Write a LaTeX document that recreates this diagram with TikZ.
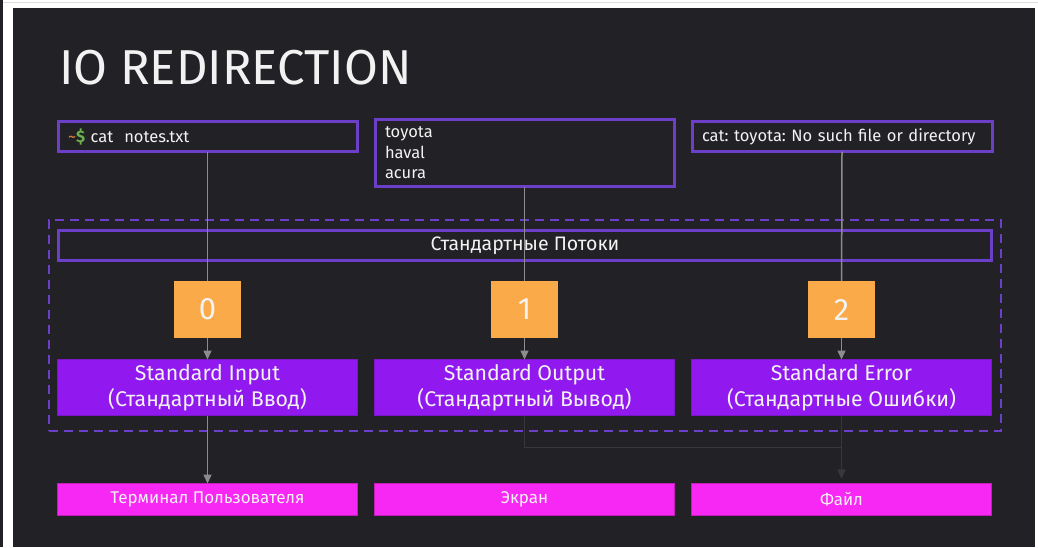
\documentclass[tikz,border=0pt]{standalone}
\usepackage{fontspec}
\setmainfont{Fira Sans}
\usetikzlibrary{arrows.meta}
\definecolor{panel}{HTML}{222226}
\definecolor{purp}{HTML}{6C3FC8}
\definecolor{orng}{HTML}{FBAA4A}
\definecolor{viol}{HTML}{9119F0}
\definecolor{viold}{HTML}{7A18C8}
\definecolor{mag}{HTML}{F727F4}
\definecolor{magd}{HTML}{C01EB8}
\definecolor{txt}{HTML}{F2F2F2}
\definecolor{conn}{HTML}{8C8C8C}
\definecolor{faint}{HTML}{38383C}
\definecolor{tilde}{HTML}{E0883A}
\definecolor{dollar}{HTML}{6AB04C}
\definecolor{edge}{HTML}{DDDDDD}
\frenchspacing
\tikzset{
  pbox/.style={draw=purp, line width=3pt, fill=panel, text=txt, font=\fontsize{16.5}{20.5}\selectfont, inner xsep=10pt, align=left, text width=#1},
  fdbox/.style={fill=orng, minimum width=67pt, minimum height=57pt, text=txt, font=\fontsize{31}{31}\selectfont},
  vbox/.style={draw=viold, line width=1pt, fill=viol, minimum width=300pt, minimum height=56pt, text=txt, align=center, font=\fontsize{21.3}{26}\selectfont},
  mbox/.style={draw=magd, line width=1.5pt, fill=mag, minimum width=300pt, minimum height=32pt, text=txt, font=\fontsize{17}{20}\selectfont},
  arr/.style={draw=conn, line width=1.5pt, -{Triangle[length=9pt,width=8pt]}},
  ln/.style={draw=conn, line width=1.5pt},
  farr/.style={draw=faint, line width=1.5pt, -{Triangle[length=9pt,width=8pt]}, shorten >=5pt},
}
\begin{document}
\begin{tikzpicture}[x=1pt,y=-1pt, every node/.style={inner sep=0pt, outer sep=0pt}]
\useasboundingbox (0,0) rectangle (1038,547);
\fill[white] (0,0) rectangle (1038,547);
\fill[panel] (0,0) rectangle (3,547);
\draw[edge, line width=1pt] (3,2.5) -- (1038,2.5);
\fill[panel] (13,8) rectangle (1035,547);

\node[anchor=west, text=txt, font=\fontsize{49}{49}\selectfont] (title) at (59,68) {IO REDIRECTION};

\node[pbox=279pt, minimum height=30pt] (cmd) at (207.5,136.5) {{\color{tilde}\textasciitilde}{\color{dollar}\textbf{\$}}\ cat\ \ notes.txt};
\node[pbox=279pt, minimum height=67pt] (cars) at (524.5,153) {toyota\\haval\\acura};
\node[pbox=280pt, minimum height=30pt] (err) at (842,136.5) {cat: toyota: No such file or directory};

\node[draw=purp, line width=2pt, dash pattern=on 9pt off 6pt, minimum width=952pt, minimum height=211pt] (frame) at (524.5,325) {};
\node[draw=purp, line width=3pt, minimum width=933pt, minimum height=30pt, text=txt, font=\fontsize{19.5}{22}\selectfont] (streams) at (525,245.5) {Стандартные Потоки};

\node[vbox] (in) at (207.5,387.5) {Standard Input\\(Стандартный Ввод)};
\node[vbox] (out) at (524.5,387.5) {Standard Output\\(Стандартный Вывод)};
\node[vbox] (er) at (841.5,387.5) {Standard Error\\(Стандартные Ошибки)};

\node[mbox] (term) at (207.5,499.5) {Терминал Пользователя};
\node[mbox] (screen) at (524.5,499.5) {Экран};
\node[mbox] (file) at (841.5,499.5) {Файл};

\coordinate (f0) at (207.5,309.5);
\coordinate (f1) at (524.5,309.5);
\coordinate (f2) at (841.5,309.5);
\draw[ln] (cmd.south) -- (f0);
\draw[ln] (cars.south) -- (f1);
\draw[ln] (err.south) -- (f2);

\node[fdbox] (s0) at (f0) {0};
\node[fdbox] (s1) at (f1) {1};
\node[fdbox] (s2) at (f2) {2};

\draw[arr] (s0.south) -- (in.north);
\draw[arr] (s1.south) -- (out.north);
\draw[arr] (s2.south) -- (er.north);
\draw[arr] (in.south) -- (term.north);
\draw[farr] (out.south) -- ++(0,32) -| (file.north);
\draw[farr] (er.south) -- (file.north);
\end{tikzpicture}
\end{document}
